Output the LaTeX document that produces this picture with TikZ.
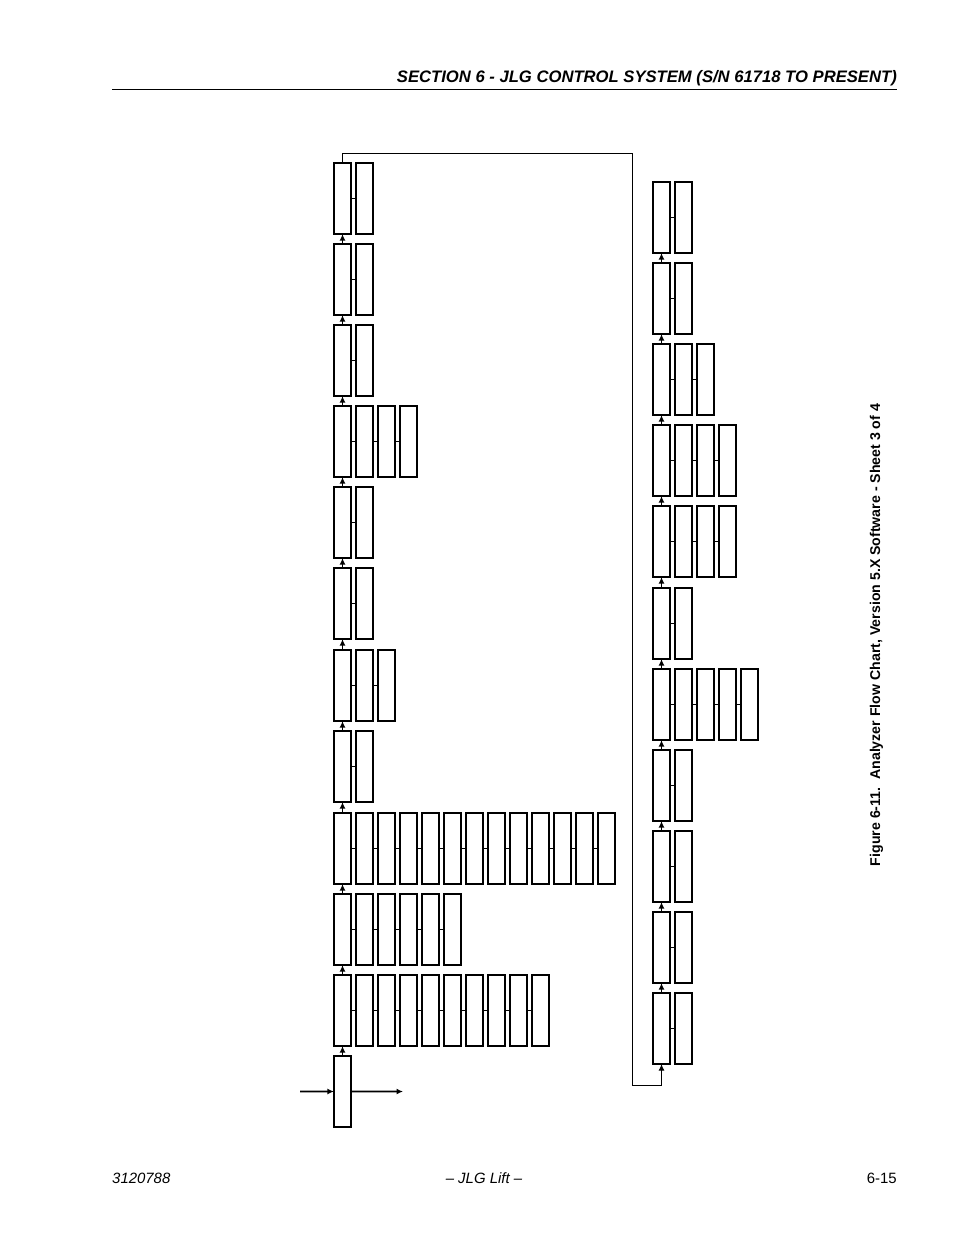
\documentclass[tikz,border=0pt]{standalone}
\usepackage{fontspec}
\setmainfont{Liberation Sans}
\usetikzlibrary{arrows.meta}
\begin{document}
\begin{tikzpicture}[x=1bp,y=-1bp,
  fbox/.style={draw,line width=1.8bp,minimum width=17.2bp,minimum height=71.2bp,inner sep=0pt,outer sep=0pt,anchor=north west},
  link/.style={line width=1bp},
  uparrow/.style={line width=1.6bp,-{Latex[length=6.5bp,width=6bp]}},
  looppath/.style={line width=1bp},
  hdr/.style={font=\bfseries\itshape\fontsize{16.7}{19}\selectfont,inner sep=0pt},
  ftr/.style={font=\fontsize{15}{17}\selectfont,inner sep=0pt},
  ftri/.style={font=\itshape\fontsize{15}{17}\selectfont,inner sep=0pt},
  captext/.style={font=\bfseries\fontsize{14.2}{16}\selectfont,inner sep=0pt}]
\useasboundingbox (0,0) rectangle (954,1235);
% header and footer
\node[hdr,anchor=base east] (head) at (897,82) {SECTION 6 - JLG CONTROL SYSTEM (S/N 61718 TO PRESENT)};
\coordinate (rl) at (112,89.5);
\coordinate (rr) at (897,89.5);
\draw[line width=0.8bp] (rl) -- (rr);
\node[ftri,anchor=base west] (f1) at (112,1183) {3120788};
\node[ftri,anchor=base] (f2) at (484,1183) {– JLG Lift –};
\node[ftr,anchor=base east] (f3) at (897,1183) {6-15};
\node[captext,rotate=90,anchor=base] (caption) at (880,635) {Figure 6-11.\ \ Analyzer Flow Chart, Version 5.X Software - Sheet 3 of 4};
% left column
\foreach \r/\y/\n in {1/162/2,2/243/2,3/324/2,4/405/4,5/486/2,6/567/2,7/649/3,8/730/2,9/812/13,10/893/6,11/974/10}{
  \foreach \c in {1,...,\n}{
    \node[fbox] (L\r-\c) at ({333.9+22*(\c-1)},{\y+0.9}) {};
  }
  \foreach \c [evaluate=\c as \p using int(\c-1)] in {2,...,\n}{
    \draw[link] (L\r-\p.east) -- (L\r-\c.west);
  }
}
\node[fbox] (E) at (333.9,1055.9) {};
\foreach \r [evaluate=\r as \q using int(\r+1)] in {1,...,10}{
  \draw[uparrow] (L\q-1.north) -- (L\r-1.south);
}
\draw[uparrow] (E.north) -- (L11-1.south);
\coordinate (in) at (300,1091.5);
\coordinate (out) at (403,1091.5);
\draw[uparrow] (in) -- (E.west);
\draw[uparrow] (E.east) -- (out);
% right column
\foreach \r/\y/\n in {1/181/2,2/262/2,3/343/3,4/424/4,5/505/4,6/587/2,7/668/5,8/749/2,9/830/2,10/911/2,11/992/2}{
  \foreach \c in {1,...,\n}{
    \node[fbox] (R\r-\c) at ({652.9+22*(\c-1)},{\y+0.9}) {};
  }
  \foreach \c [evaluate=\c as \p using int(\c-1)] in {2,...,\n}{
    \draw[link] (R\r-\p.east) -- (R\r-\c.west);
  }
}
\foreach \r [evaluate=\r as \q using int(\r+1)] in {1,...,10}{
  \draw[uparrow] (R\q-1.north) -- (R\r-1.south);
}
% loop from top of left column to bottom of right column
\coordinate (t2) at (632,153);
\coordinate (t3) at (632,1085);
\draw[looppath,-{Latex[length=6.5bp,width=6bp]}] (L1-1.north) -- (L1-1.north |- t2) -- (t2) -- (t3) -- (R11-1.south |- t3) -- (R11-1.south);
\end{tikzpicture}
\end{document}
